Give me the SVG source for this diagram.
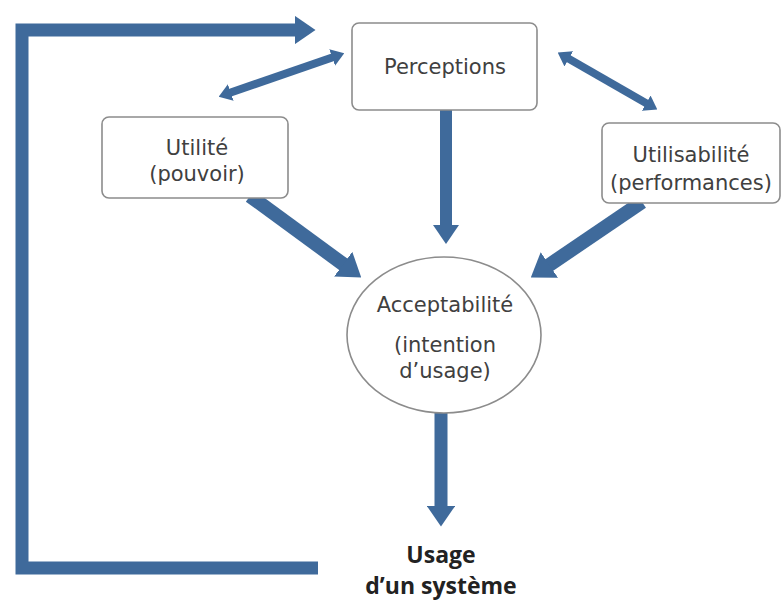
<svg xmlns="http://www.w3.org/2000/svg" width="783" height="601" viewBox="0 0 783 601">
<defs>
<marker id="ah" viewBox="0 0 16 22" markerWidth="1.6" markerHeight="2.2" refX="1" refY="11" orient="auto-start-reverse" markerUnits="strokeWidth">
<path d="M0,0 L16,11 L0,22 z" fill="#3f6a9b"/>
</marker>
</defs>
<style>
.box{fill:#fff;stroke:#8c8c8c;stroke-width:1.6}
.t{font-family:"DejaVu Sans","Open Sans",sans-serif;font-size:21px;fill:#404040;text-anchor:middle}
.b{font-family:"Open Sans","Liberation Sans",sans-serif;font-size:23px;font-weight:bold;fill:#222;text-anchor:middle}
.c{fill:none;stroke:#3f6a9b}
</style>
<rect width="783" height="601" fill="#fff"/>
<g id="connectors">
<path class="c" d="M318,568 L22,568 L22,30 L296,30" stroke-width="13" marker-end="url(#ah)"/>
<line class="c" x1="230" y1="92.8" x2="332.9" y2="57.2" stroke-width="8" marker-start="url(#ah)" marker-end="url(#ah)"/>
<line class="c" x1="568.1" y1="58.4" x2="646.9" y2="103.6" stroke-width="8" marker-start="url(#ah)" marker-end="url(#ah)"/>
<line class="c" x1="446" y1="110" x2="446" y2="226" stroke-width="12" marker-end="url(#ah)"/>
<line class="c" x1="250" y1="196" x2="344.3" y2="265" stroke-width="14" marker-end="url(#ah)"/>
<line class="c" x1="642" y1="202" x2="548.2" y2="265.7" stroke-width="14" marker-end="url(#ah)"/>
<line class="c" x1="441" y1="413" x2="441" y2="507" stroke-width="13" marker-end="url(#ah)"/>
</g>
<g id="perceptions">
<rect class="box" x="352" y="23" width="185" height="87" rx="7"/>
<text class="t" x="445" y="74">Perceptions</text>
</g>
<g id="utilite">
<rect class="box" x="102" y="117" width="186" height="81" rx="7"/>
<text class="t" x="197" y="155">Utilité</text>
<text class="t" x="197" y="181">(pouvoir)</text>
</g>
<g id="utilisabilite">
<rect class="box" x="602" y="123" width="178" height="80" rx="7"/>
<text class="t" x="691" y="162">Utilisabilité</text>
<text class="t" x="691" y="190">(performances)</text>
</g>
<g id="acceptabilite">
<ellipse class="box" cx="444" cy="335" rx="97" ry="78"/>
<text class="t" x="445" y="312">Acceptabilité</text>
<text class="t" x="445" y="352">(intention</text>
<text class="t" x="445" y="378">d’usage)</text>
</g>
<g id="usage">
<text class="b" x="441" y="563">Usage</text>
<text class="b" x="441" y="594">d’un système</text>
</g>
</svg>
